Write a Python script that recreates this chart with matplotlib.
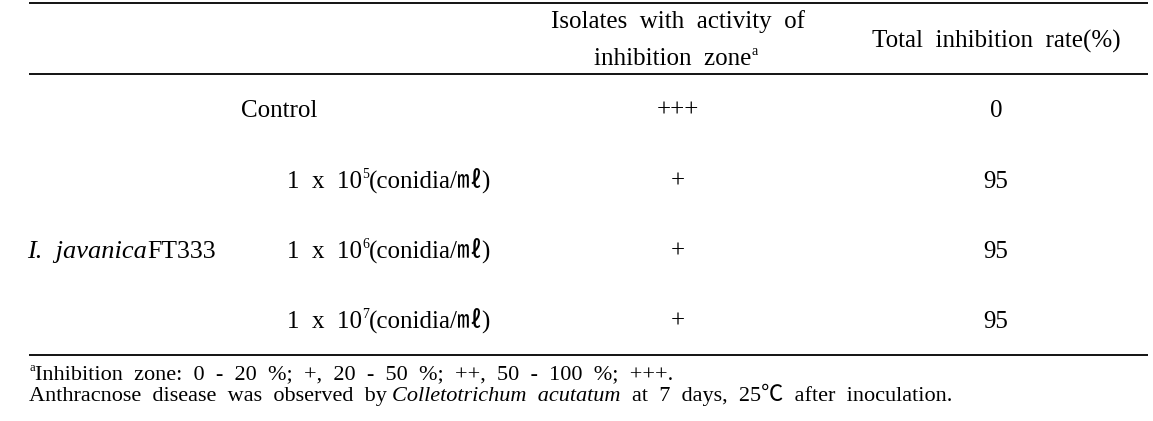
import matplotlib
matplotlib.use('Agg')
import matplotlib.pyplot as plt

# ---------------- data ----------------
header_col2 = ['Isolates  with  activity  of', 'inhibition  zone']
header_col3 = 'Total  inhibition  rate(%)'
control_label = 'Control'
isolate_italic = 'I.  javanica'
isolate_plain = 'FT333'
conc_base = '1  x  10'
conc_exponents = ['5', '6', '7']
conc_unit = '(conidia/㎖)'
activity = ['+++', '+', '+', '+']
total_rate = [0, 95, 95, 95]
foot1 = 'Inhibition  zone:  0  -  20  %;  +,  20  -  50  %;  ++,  50  -  100  %;  +++.'
foot2_a = 'Anthracnose  disease  was  observed  by'
foot2_b = 'Colletotrichum  acutatum'
foot2_c = 'at  7  days,  25℃  after  inoculation.'

# ---------------- layout ----------------
W, H = 1153, 421
fig = plt.figure(figsize=(W / 100, H / 100), dpi=100)
ax = fig.add_axes([0, 0, 1, 1])
ax.set_xlim(0, W)
ax.set_ylim(H, 0)
ax.axis('off')

FAM = ['Liberation Serif', 'Noto Sans CJK KR', 'DejaVu Sans']
FS = 18.0
SUP = 10.0
FFS = 16.0
fig.canvas.draw()
R = fig.canvas.get_renderer()


def width(txt, size, style='normal'):
    t = ax.text(0, 0, txt, fontsize=size, family=FAM, style=style)
    w = t.get_window_extent(R).width
    t.remove()
    return w


def space_w(size):
    return width('x x', size) - width('xx', size)


def runs(x, y, parts, ha='left'):
    """parts: list of (text, size, style, dy, gap_spaces_after)"""
    ws = [width(p[0], p[1], p[2]) for p in parts]
    gaps = [p[4] * space_w(p[1]) for p in parts]
    total = sum(ws) + sum(gaps[:-1])
    if ha == 'center':
        x -= total / 2
    for p, w, g in zip(parts, ws, gaps):
        ax.text(x, y + p[3], p[0], fontsize=p[1], family=FAM, style=p[2],
                ha='left', va='baseline', color='black')
        x += w + g


# rules
LX0, LX1 = 29, 1148
for yy in (3, 74, 355):
    ax.plot([LX0, LX1], [yy, yy], color='black', lw=1.3, solid_capstyle='butt')

COL2, COL3 = 678, 996

# header
runs(COL2, 28, [(header_col2[0], FS, 'normal', 0, 0)], ha='center')
runs(COL2 - 2, 65, [(header_col2[1], FS, 'normal', 0, 0),
                    ('a', SUP, 'normal', -10, 0)], ha='center')
runs(COL3, 48, [(header_col3, FS, 'normal', 0, 0)], ha='center')

# body rows
row_y = [117, 188, 258, 328]
runs(279, row_y[0], [(control_label, FS, 'normal', 0, 0)], ha='center')
for i, e in enumerate(conc_exponents):
    runs(287, row_y[i + 1], [(conc_base, FS, 'normal', 0, 0),
                             (e, SUP, 'normal', -10, 0),
                             (conc_unit, FS, 'normal', 0, 0)])
runs(27, row_y[2], [(isolate_italic, 19.0, 'italic', 0, 0),
                    (isolate_plain, 18.5, 'normal', 0, 0)])
for i in range(4):
    runs(COL2, row_y[i], [(activity[i], FS, 'normal', 0, 0)], ha='center')
    runs(COL3, row_y[i], [(str(total_rate[i]), FS, 'normal', 0, 0)], ha='center')

# footnotes
runs(29, 379, [('a', SUP - 1, 'normal', -8, 0), (foot1, FFS, 'normal', 0, 0)])
runs(29, 401, [(foot2_a, FFS, 'normal', 0, 1),
               (foot2_b, FFS, 'italic', 0, 2),
               (foot2_c, FFS, 'normal', 0, 0)])

fig.savefig('out.png', dpi=100)
